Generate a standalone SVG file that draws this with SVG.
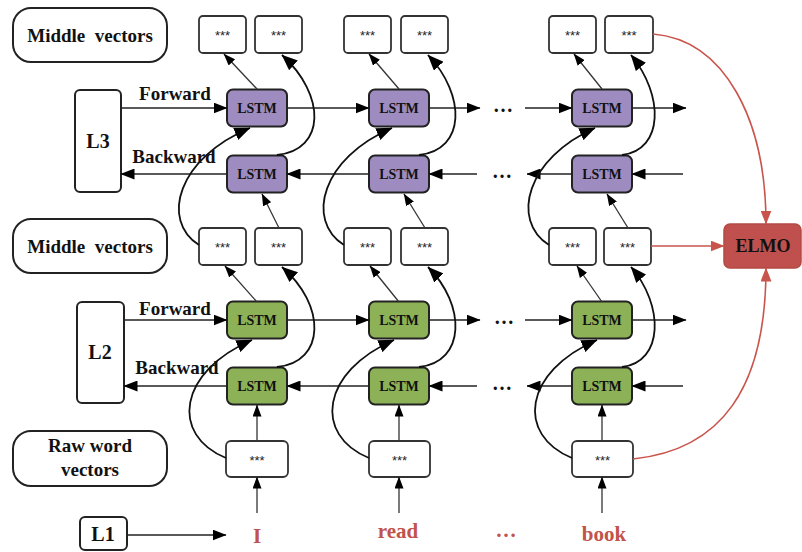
<svg xmlns="http://www.w3.org/2000/svg" width="802" height="552" viewBox="0 0 802 552">
<style>
.lbl{fill:#fff;stroke:#222;stroke-width:2}
.t{font-family:"Liberation Serif","Times New Roman",serif;font-weight:bold;fill:#111;text-anchor:middle}
.big{font-size:19px;white-space:pre}
.ls{font-size:14px}
.star{font-family:"Liberation Sans",Arial,sans-serif;font-size:13px;fill:#222;text-anchor:middle}
.lp{fill:#9E8CC0;stroke:#222;stroke-width:2}
.lg{fill:#8DB157;stroke:#222;stroke-width:2}
.vec{fill:#fff;stroke:#333;stroke-width:1.8}
.h{fill:none;stroke:#222;stroke-width:1.6}
.th{fill:none;stroke:#333;stroke-width:1.3}
.cv{fill:none;stroke:#111;stroke-width:1.8}
.red{fill:none;stroke:#C9544C;stroke-width:1.6}
.word{font-family:"Liberation Serif","Times New Roman",serif;font-weight:bold;font-size:21px;fill:#C3524B;text-anchor:middle}
</style>
<defs>
<marker id="ah" viewBox="0 0 14 11" refX="13.5" refY="5.5" markerWidth="14" markerHeight="11" orient="auto" markerUnits="userSpaceOnUse"><path d="M0,0 L14,5.5 L0,11 z" fill="#000"/></marker>
<marker id="as" viewBox="0 0 12 9" refX="11.5" refY="4.5" markerWidth="12" markerHeight="9" orient="auto" markerUnits="userSpaceOnUse"><path d="M0,0 L12,4.5 L0,9 z" fill="#000"/></marker>
<marker id="ab" viewBox="0 0 16 13" refX="15.5" refY="6.5" markerWidth="16" markerHeight="13" orient="auto" markerUnits="userSpaceOnUse"><path d="M0,0 L16,6.5 L0,13 z" fill="#000"/></marker>
<marker id="ar" viewBox="0 0 14 11" refX="13.5" refY="5.5" markerWidth="14" markerHeight="11" orient="auto" markerUnits="userSpaceOnUse"><path d="M0,0 L14,5.5 L0,11 z" fill="#C9544C"/></marker>
</defs>

<!-- label nodes -->
<g id="mid-top-label"><rect class="lbl" x="13" y="8" width="154" height="54" rx="18"/><text class="t big" x="90" y="42">Middle  vectors</text></g>
<g id="L3"><rect class="lbl" x="75" y="90" width="46" height="102" rx="5"/><text class="t" style="font-size:20px" x="98" y="148">L3</text></g>
<g id="mid-label"><rect class="lbl" x="13" y="219" width="154" height="54" rx="18"/><text class="t big" x="90" y="253">Middle  vectors</text></g>
<g id="L2"><rect class="lbl" x="77" y="302" width="47" height="101" rx="5"/><text class="t" style="font-size:20px" x="100" y="359">L2</text></g>
<g id="raw-label"><rect class="lbl" x="13" y="431" width="154" height="55" rx="18"/><text class="t big" x="90" y="452">Raw word</text><text class="t big" x="90" y="476">vectors</text></g>
<g id="L1"><rect class="lbl" x="80" y="517" width="47" height="33" rx="5"/><text class="t" style="font-size:20px" x="103" y="541">L1</text></g>
<g id="lbl-text">
<text class="t big" x="175" y="100">Forward</text>
<text class="t big" x="174" y="163">Backward</text>
<text class="t big" x="175" y="315">Forward</text>
<text class="t big" x="177" y="374">Backward</text>
</g>

<!-- top middle vectors -->
<g id="v3-1a"><rect class="vec" x="199" y="16" width="47" height="37" rx="4"/><text class="star" x="222.5" y="40">***</text></g>
<g id="v3-1b"><rect class="vec" x="255" y="16" width="47" height="37" rx="4"/><text class="star" x="278.5" y="40">***</text></g>
<g id="v3-2a"><rect class="vec" x="344" y="16" width="47" height="37" rx="4"/><text class="star" x="367.5" y="40">***</text></g>
<g id="v3-2b"><rect class="vec" x="401" y="16" width="47" height="37" rx="4"/><text class="star" x="424.5" y="40">***</text></g>
<g id="v3-3a"><rect class="vec" x="549" y="16" width="47" height="37" rx="4"/><text class="star" x="572.5" y="40">***</text></g>
<g id="v3-3b"><rect class="vec" x="605" y="16" width="48" height="37" rx="4"/><text class="star" x="629" y="40">***</text></g>

<!-- purple LSTMs -->
<g id="p-f1"><rect class="lp" x="227" y="89.5" width="60" height="37" rx="6"/><text class="t ls" x="257" y="113">LSTM</text></g>
<g id="p-f2"><rect class="lp" x="369" y="89.5" width="60" height="37" rx="6"/><text class="t ls" x="399" y="113">LSTM</text></g>
<g id="p-f3"><rect class="lp" x="572" y="89.5" width="60" height="37" rx="6"/><text class="t ls" x="602" y="113">LSTM</text></g>
<g id="p-b1"><rect class="lp" x="227" y="155.5" width="60" height="37" rx="6"/><text class="t ls" x="257" y="179">LSTM</text></g>
<g id="p-b2"><rect class="lp" x="369" y="155.5" width="60" height="37" rx="6"/><text class="t ls" x="399" y="179">LSTM</text></g>
<g id="p-b3"><rect class="lp" x="572" y="155.5" width="60" height="37" rx="6"/><text class="t ls" x="602" y="179">LSTM</text></g>

<!-- middle vectors -->
<g id="v2-1a"><rect class="vec" x="199" y="228" width="47" height="37" rx="4"/><text class="star" x="222.5" y="252">***</text></g>
<g id="v2-1b"><rect class="vec" x="255" y="228" width="47" height="37" rx="4"/><text class="star" x="278.5" y="252">***</text></g>
<g id="v2-2a"><rect class="vec" x="344" y="228" width="47" height="37" rx="4"/><text class="star" x="367.5" y="252">***</text></g>
<g id="v2-2b"><rect class="vec" x="401" y="228" width="47" height="37" rx="4"/><text class="star" x="424.5" y="252">***</text></g>
<g id="v2-3a"><rect class="vec" x="549" y="228" width="47" height="37" rx="4"/><text class="star" x="572.5" y="252">***</text></g>
<g id="v2-3b"><rect class="vec" x="604" y="228" width="47" height="37" rx="4"/><text class="star" x="627.5" y="252">***</text></g>

<!-- green LSTMs -->
<g id="g-f1"><rect class="lg" x="227" y="301.5" width="60" height="37" rx="6"/><text class="t ls" x="257" y="325">LSTM</text></g>
<g id="g-f2"><rect class="lg" x="369" y="301.5" width="60" height="37" rx="6"/><text class="t ls" x="399" y="325">LSTM</text></g>
<g id="g-f3"><rect class="lg" x="572" y="301.5" width="60" height="37" rx="6"/><text class="t ls" x="602" y="325">LSTM</text></g>
<g id="g-b1"><rect class="lg" x="227" y="367.5" width="60" height="37" rx="6"/><text class="t ls" x="257" y="391">LSTM</text></g>
<g id="g-b2"><rect class="lg" x="369" y="367.5" width="60" height="37" rx="6"/><text class="t ls" x="399" y="391">LSTM</text></g>
<g id="g-b3"><rect class="lg" x="572" y="367.5" width="60" height="37" rx="6"/><text class="t ls" x="602" y="391">LSTM</text></g>

<!-- raw word vectors -->
<g id="raw1"><rect class="vec" x="226" y="441" width="62" height="36" rx="5"/><text class="star" x="257" y="465">***</text></g>
<g id="raw2"><rect class="vec" x="369" y="441" width="61" height="36" rx="5"/><text class="star" x="399.5" y="465">***</text></g>
<g id="raw3"><rect class="vec" x="572" y="441" width="61" height="36" rx="5"/><text class="star" x="602.5" y="465">***</text></g>

<!-- ELMO -->
<g id="elmo"><rect x="724" y="224" width="77" height="44" rx="6" fill="#C0504D" stroke="#B24A44" stroke-width="1.5"/><text class="t" style="font-size:18px" x="763" y="252">ELMO</text></g>

<!-- words -->
<g id="words">
<text class="word" x="257" y="543">I</text>
<text class="word" x="398" y="538">read</text>
<text class="word" x="506" y="537">…</text>
<text class="word" x="604" y="541">book</text>
</g>
<g id="dots">
<text class="t" style="font-size:20px" x="503" y="112">…</text>
<text class="t" style="font-size:20px" x="502" y="178">…</text>
<text class="t" style="font-size:20px" x="504" y="324">…</text>
<text class="t" style="font-size:20px" x="502" y="390">…</text>
</g>

<g id="connectors">
<!-- purple horizontal -->
<path class="h" marker-end="url(#ah)" d="M121,108 L227,108"/>
<path class="h" marker-end="url(#ah)" d="M287,108 L369,108"/>
<path class="h" marker-end="url(#ah)" d="M429,108 L480,108"/>
<path class="h" marker-end="url(#ah)" d="M525,108 L572,108"/>
<path class="h" marker-end="url(#ah)" d="M632,108 L686,108"/>
<path class="h" marker-end="url(#ah)" d="M683,174 L632,174"/>
<path class="h" marker-end="url(#ah)" d="M572,174 L527,174"/>
<path class="h" marker-end="url(#ah)" d="M477,174 L429,174"/>
<path class="h" marker-end="url(#ah)" d="M369,174 L287,174"/>
<path class="h" marker-end="url(#ah)" d="M227,174 L121,174"/>
<!-- green horizontal -->
<path class="h" marker-end="url(#ah)" d="M124,320 L227,320"/>
<path class="h" marker-end="url(#ah)" d="M287,320 L369,320"/>
<path class="h" marker-end="url(#ah)" d="M429,320 L480,320"/>
<path class="h" marker-end="url(#ah)" d="M525,320 L572,320"/>
<path class="h" marker-end="url(#ah)" d="M632,320 L686,320"/>
<path class="h" marker-end="url(#ah)" d="M683,386 L632,386"/>
<path class="h" marker-end="url(#ah)" d="M572,386 L527,386"/>
<path class="h" marker-end="url(#ah)" d="M477,386 L429,386"/>
<path class="h" marker-end="url(#ah)" d="M369,386 L287,386"/>
<path class="h" marker-end="url(#ah)" d="M227,386 L124,386"/>
<!-- L1 -->
<path class="h" marker-end="url(#ah)" d="M127,535 L226,535"/>

<!-- column 1 -->
<path class="th" marker-end="url(#as)" d="M257,89 L224,54"/>
<path class="cv" marker-end="url(#ab)" d="M277,155 C326,150 326,95 282,55"/>
<path class="cv" marker-end="url(#ab)" d="M199,245 C160,220 178,158 250,128"/>
<path class="th" marker-end="url(#as)" d="M279,228 L262,194"/>
<path class="th" marker-end="url(#as)" d="M257,302 L225,266"/>
<path class="cv" marker-end="url(#ab)" d="M277,367 C326,362 326,305 282,267"/>
<path class="cv" marker-end="url(#ab)" d="M226,458 C170,435 178,372 252,340"/>
<path class="th" marker-end="url(#as)" d="M257,441 L257,405"/>
<path class="th" marker-end="url(#as)" d="M257,513 L257,477"/>
<!-- column 2 -->
<path class="th" marker-end="url(#as)" d="M399,89 L369,54"/>
<path class="cv" marker-end="url(#ab)" d="M419,155 C466,150 466,95 428,55"/>
<path class="cv" marker-end="url(#ab)" d="M344,245 C305,220 322,158 392,128"/>
<path class="th" marker-end="url(#as)" d="M425,228 L404,194"/>
<path class="th" marker-end="url(#as)" d="M399,302 L370,266"/>
<path class="cv" marker-end="url(#ab)" d="M419,367 C466,362 466,305 428,267"/>
<path class="cv" marker-end="url(#ab)" d="M369,458 C313,435 321,372 394,340"/>
<path class="th" marker-end="url(#as)" d="M399,441 L399,405"/>
<path class="th" marker-end="url(#as)" d="M399,513 L399,477"/>
<!-- column 3 -->
<path class="th" marker-end="url(#as)" d="M602,89 L574,54"/>
<path class="cv" marker-end="url(#ab)" d="M622,155 C664,150 664,95 631,55"/>
<path class="cv" marker-end="url(#ab)" d="M549,245 C510,220 527,158 595,128"/>
<path class="th" marker-end="url(#as)" d="M628,228 L607,194"/>
<path class="th" marker-end="url(#as)" d="M602,302 L577,266"/>
<path class="cv" marker-end="url(#ab)" d="M622,367 C664,362 664,305 631,267"/>
<path class="cv" marker-end="url(#ab)" d="M572,458 C516,435 523,372 597,340"/>
<path class="th" marker-end="url(#as)" d="M602,441 L602,405"/>
<path class="th" marker-end="url(#as)" d="M602,513 L602,477"/>

<!-- red to ELMO -->
<path class="red" marker-end="url(#ar)" d="M653,34 C725,40 766,120 766,224"/>
<path class="red" marker-end="url(#ar)" d="M651,246 L724,246"/>
<path class="red" marker-end="url(#ar)" d="M633,459 C720,450 766,390 766,268"/>
</g>
</svg>
